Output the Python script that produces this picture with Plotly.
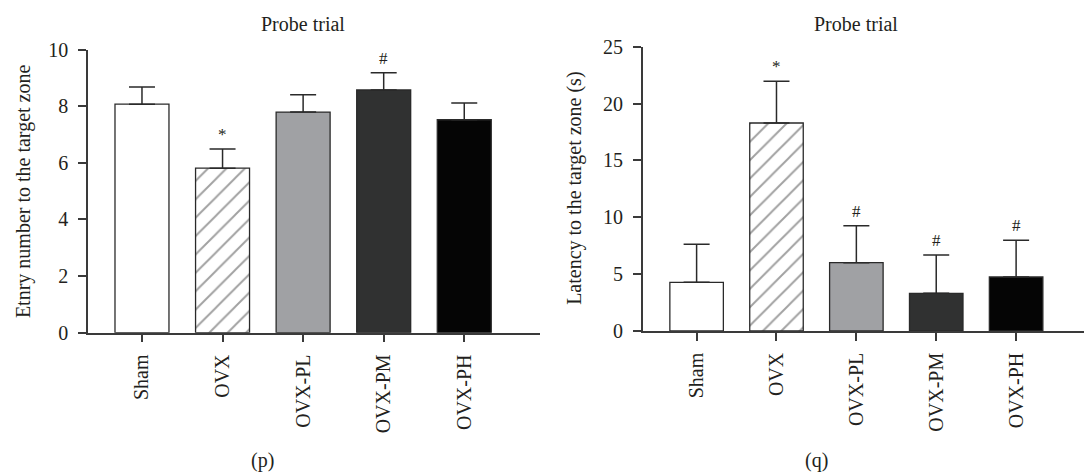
import plotly.graph_objects as go

# ---- data ----
groups = ["Sham", "OVX", "OVX-PL", "OVX-PM", "OVX-PH"]
entry_mean = [8.07, 5.81, 7.79, 8.57, 7.52]
entry_sem = [0.61, 0.68, 0.61, 0.61, 0.59]
entry_sig = ["", "*", "", "#", ""]
latency_mean = [4.28, 18.29, 6.01, 3.31, 4.75]
latency_sem = [3.34, 3.67, 3.25, 3.37, 3.22]
latency_sig = ["", "*", "#", "#", "#"]

bar_colors = ["#ffffff", "#ffffff", "#a0a1a4", "#303131", "#050505"]
bar_patterns = ["", "/", "", "", ""]

W, H = 1084, 472
FONT = "Liberation Serif"
TXT = "#231f20"
AX = "#3a3a3a"

fig = go.Figure()


def add_panel(means, sems, xa, ya):
    fig.add_trace(go.Bar(
        x=groups, y=means, xaxis=xa, yaxis=ya, width=0.67,
        marker=dict(color=bar_colors,
                    line=dict(color="#2a2a2a", width=1.3),
                    pattern=dict(shape=bar_patterns, fgcolor="#000000",
                                 bgcolor="#ffffff", size=13, solidity=0.15)),
        error_y=dict(type="data", symmetric=False, array=sems,
                     arrayminus=[0] * len(sems), width=13, thickness=1.5,
                     color="#2a2a2a"),
        showlegend=False,
    ))


add_panel(entry_mean, entry_sem, "x", "y")
add_panel(latency_mean, latency_sem, "x2", "y2")

tick_font = dict(family=FONT, size=20, color=TXT)
axis_common = dict(showline=True, linecolor=AX, linewidth=1.5, ticks="outside",
                   ticklen=8, tickwidth=1.5, tickcolor=AX, showgrid=False,
                   zeroline=False, tickfont=tick_font, automargin=False)

fig.update_layout(
    width=W, height=H, autosize=False, showlegend=False,
    margin=dict(l=0, r=0, t=0, b=0, pad=0, autoexpand=False),
    paper_bgcolor="white", plot_bgcolor="white",
    xaxis=dict(domain=[88 / W, 540 / W], range=[-0.67, 4.94], anchor="y",
               tickangle=-90, ticklabelstandoff=4, **axis_common),
    yaxis=dict(domain=[(H - 332.7) / H, (H - 49.5) / H], range=[0, 10], dtick=2,
               anchor="x", ticklabelstandoff=6, **axis_common),
    xaxis2=dict(domain=[642.7 / W, 1.0], range=[-0.675, 4.85], anchor="y2",
                tickangle=-90, ticklabelstandoff=4, **axis_common),
    yaxis2=dict(domain=[(H - 331) / H, (H - 46.7) / H], range=[0, 25], dtick=5,
                anchor="x2", ticklabelstandoff=6, **axis_common),
)

ann_font = dict(family=FONT, size=20, color=TXT)

# significance markers
for xr, yr, means, sems, sig in [("x", "y", entry_mean, entry_sem, entry_sig),
                                  ("x2", "y2", latency_mean, latency_sem, latency_sig)]:
    for g, m, s, lab in zip(groups, means, sems, sig):
        if lab:
            fig.add_annotation(x=g, y=m + s, xref=xr, yref=yr, text=lab,
                               showarrow=False, yanchor="bottom", yshift=3,
                               font=dict(family=FONT, size=17, color=TXT))

# titles and captions
for xr, cap in [("x", "(p)"), ("x2", "(q)")]:
    fig.add_annotation(x=2, y=1 - 24 / H, xref=xr, yref="paper", text="Probe trial",
                       showarrow=False, font=ann_font, yanchor="middle")
    fig.add_annotation(x=1.5, y=1 - 460 / H, xref=xr, yref="paper", text=cap,
                       showarrow=False, font=ann_font, yanchor="middle")

# y-axis titles
fig.add_annotation(x=23 / W, y=0.5, xref="paper", yref="y domain",
                   text="Etnry number to the target zone", textangle=-90,
                   xanchor="center", yanchor="middle",
                   showarrow=False, font=ann_font)
fig.add_annotation(x=575 / W, y=0.5, xref="paper", yref="y2 domain",
                   text="Latency to the target zone (s)", textangle=-90,
                   xanchor="center", yanchor="middle",
                   showarrow=False, font=ann_font)

fig.write_html("out.html", config={"displayModeBar": False},
               post_script="document.body.style.margin='0';"
                           "document.body.style.overflow='hidden';")
